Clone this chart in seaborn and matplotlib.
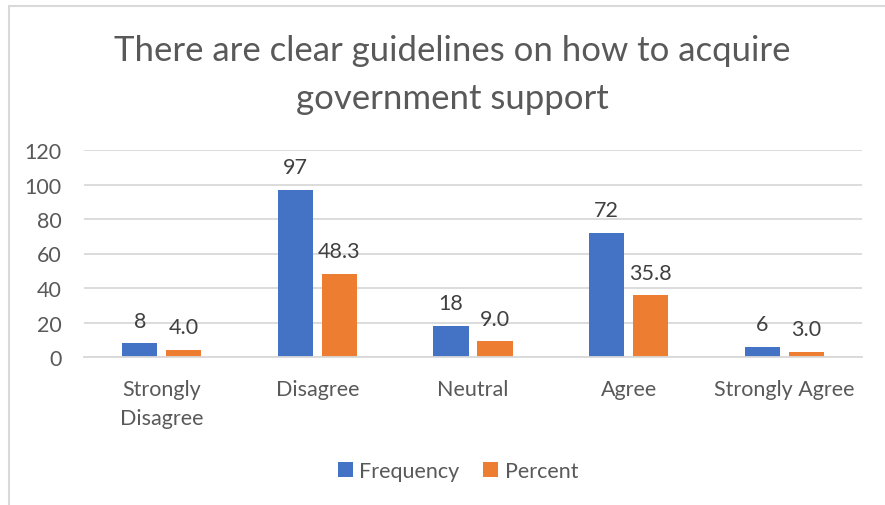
import matplotlib
matplotlib.use("Agg")
import matplotlib.pyplot as plt
from matplotlib.lines import Line2D
from matplotlib.patches import Patch
import seaborn as sns
import pandas as pd

categories = ["Strongly\nDisagree", "Disagree", "Neutral", "Agree", "Strongly Agree"]
frequency = [8, 97, 18, 72, 6]
percent = [4.0, 48.3, 9.0, 35.8, 3.0]
series = ["Frequency", "Percent"]
colors = ["#4472C4", "#ED7D31"]
yticks = [0, 20, 40, 60, 80, 100, 120]

df = pd.DataFrame({
    "category": categories * 2,
    "series": [series[0]] * len(categories) + [series[1]] * len(categories),
    "value": frequency + percent,
})

sns.set_theme(style="white")
plt.rcParams["font.family"] = ["Lato", "DejaVu Sans"]

fs = 15.5

fig = plt.figure(figsize=(8.85, 5.06), dpi=100)
ax = fig.add_axes([84 / 885, 1 - 358 / 506, (862 - 84) / 885, (358 - 151) / 506])

sns.barplot(data=df, x="category", y="value", hue="series", order=categories,
            hue_order=series, palette=colors, width=0.566, gap=0.2,
            saturation=1, edgecolor="none", legend=False, ax=ax)

ax.set_ylim(0, 120)
ax.set_xlim(-0.5, len(categories) - 0.5)
ax.set_yticks(yticks)
ax.yaxis.grid(True, color="#D9D9D9", linewidth=1.3)
ax.set_axisbelow(True)
for s in ["top", "right", "left"]:
    ax.spines[s].set_visible(False)
ax.spines["bottom"].set_color("#D9D9D9")
ax.spines["bottom"].set_linewidth(1.3)
ax.set_xlabel("")
ax.set_ylabel("")
ax.tick_params(axis="both", length=0, labelsize=fs, labelcolor="#595959")
ax.tick_params(axis="y", pad=16)
ax.tick_params(axis="x", pad=16)
for lbl in ax.get_xticklabels():
    lbl.set_linespacing(1.55)

# value labels above each bar
for container, fmt in zip(ax.containers, ["{:.0f}", "{:.1f}"]):
    for bar in container:
        h = bar.get_height()
        ax.annotate(fmt.format(h), (bar.get_x() + bar.get_width() / 2, h),
                    xytext=(0, 12), textcoords="offset points",
                    ha="center", va="baseline", fontsize=fs, color="#404040")

fig.text(452 / 885, 1 - 75 / 506,
         "There are clear guidelines on how to acquire\ngovernment support",
         ha="center", va="center", fontsize=25, color="#595959", linespacing=1.63)

handles = [Patch(facecolor=c, edgecolor="none") for c in colors]
fig.legend(handles, series, loc="center", bbox_to_anchor=(458 / 885, 1 - 472 / 506),
           ncol=2, frameon=False, fontsize=fs, handlelength=0.7, handleheight=0.7,
           handletextpad=0.3, columnspacing=1.1, labelcolor="#595959")

# chart-area frame
fig.add_artist(Line2D([9 / 885, 9 / 885], [0, 1 - 7 / 506], color="#D9D9D9",
                      linewidth=1.5, transform=fig.transFigure))
fig.add_artist(Line2D([9 / 885, 1], [1 - 7 / 506, 1 - 7 / 506], color="#D9D9D9",
                      linewidth=1.5, transform=fig.transFigure))

fig.savefig("out.png", dpi=100, facecolor="white")
